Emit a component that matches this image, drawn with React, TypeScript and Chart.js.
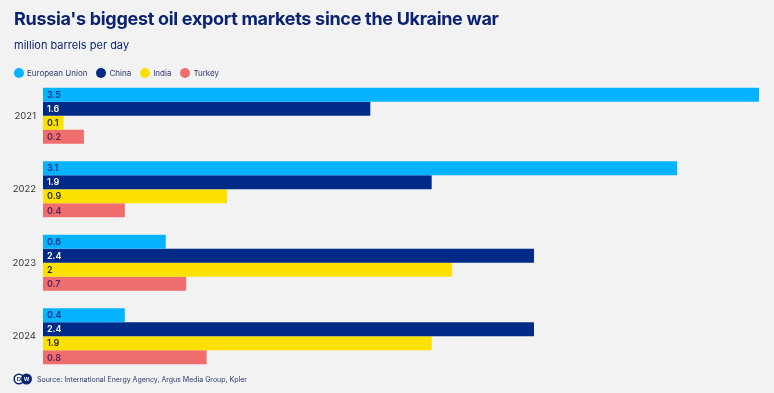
import React, { useEffect, useRef } from "react";
import { Chart, registerables } from "chart.js";

Chart.register(...registerables);

const years = ["2021", "2022", "2023", "2024"];
const euValues = [3.5, 3.1, 0.6, 0.4];
const chinaValues = [1.6, 1.9, 2.4, 2.4];
const indiaValues = [0.1, 0.9, 2, 1.9];
const turkeyValues = [0.2, 0.4, 0.7, 0.8];
const seriesNames = ["European Union", "China", "India", "Turkey"];
const seriesColors = ["#05b3fd", "#002a88", "#fbe000", "#f06d6d"];
const labelColors = ["#12318a", "#ffffff", "#2c2a1c", "#5a2458"];

const FONT = "Inter, 'Noto Sans', 'Open Sans', sans-serif";

const valueLabelPlugin = {
  id: "valueLabels",
  afterDatasetsDraw(chart: any) {
    const ctx = chart.ctx;
    ctx.save();
    ctx.font = `600 9px ${FONT}`;
    ctx.textBaseline = "middle";
    ctx.textAlign = "left";
    chart.data.datasets.forEach((ds: any, i: number) => {
      const meta = chart.getDatasetMeta(i);
      meta.data.forEach((bar: any, j: number) => {
        ctx.fillStyle = labelColors[i];
        ctx.fillText(String(ds.data[j]), bar.base + 4, bar.y + 0.5);
      });
    });
    ctx.restore();
  },
};

export default function App() {
  const ref = useRef<HTMLCanvasElement>(null);
  useEffect(() => {
    const allValues = [euValues, chinaValues, indiaValues, turkeyValues];
    const chart = new Chart(ref.current!, {
      type: "bar",
      data: {
        labels: years,
        datasets: allValues.map((vals, i) => ({
          label: seriesNames[i],
          data: vals,
          backgroundColor: seriesColors[i],
          borderWidth: 0,
          categoryPercentage: 0.764,
          barPercentage: 1,
        })),
      },
      options: {
        indexAxis: "y",
        animation: false,
        responsive: false,
        maintainAspectRatio: false,
        layout: { padding: { left: 0, right: 15, top: 79, bottom: 20 } },
        plugins: {
          legend: { display: false },
          tooltip: { enabled: false },
          title: { display: false },
        },
        scales: {
          x: { display: false, min: 0, max: 3.5 },
          y: {
            grid: { display: false, drawTicks: false },
            border: { display: false },
            ticks: {
              color: "#333333",
              font: { family: FONT, size: 9.5 },
              padding: 7,
            },
            afterFit(scale: any) {
              scale.width = 43;
            },
          },
        },
      },
      plugins: [valueLabelPlugin],
    });
    return () => chart.destroy();
  }, []);

  const navy = "#0a2471";
  return (
    <div
      style={{
        position: "fixed",
        left: 0,
        top: 0,
        width: 774,
        height: 393,
        background: "#f3f2f2",
        fontFamily: FONT,
        overflow: "hidden",
      }}
    >
      <canvas ref={ref} width={774} height={393} style={{ position: "absolute", left: 0, top: 0 }} />
      <div
        style={{
          position: "absolute",
          left: 14,
          top: 8,
          fontSize: 18,
          fontWeight: 700,
          color: navy,
          letterSpacing: -0.3,
          whiteSpace: "nowrap",
        }}
      >
        Russia's biggest oil export markets since the Ukraine war
      </div>
      <div
        style={{
          position: "absolute",
          left: 14,
          top: 38,
          fontSize: 11,
          color: navy,
          whiteSpace: "nowrap",
        }}
      >
        million barrels per day
      </div>
      <div
        style={{
          position: "absolute",
          left: 14,
          top: 68,
          display: "flex",
          alignItems: "center",
          fontSize: 8,
          color: "#2a3a70",
          whiteSpace: "nowrap",
        }}
      >
        {seriesNames.map((n, i) => (
          <div key={n} style={{ display: "flex", alignItems: "center", marginRight: 9 }}>
            <span
              style={{
                display: "inline-block",
                width: 10,
                height: 10,
                borderRadius: 5,
                background: seriesColors[i],
                marginRight: 3,
              }}
            />
            <span>{n}</span>
          </div>
        ))}
      </div>
      <svg
        style={{ position: "absolute", left: 13, top: 373 }}
        width={20}
        height={12}
        viewBox="0 0 20 12"
      >
        <circle cx={6} cy={6} r={4.8} fill="#fff" stroke={navy} strokeWidth={1.6} />
        <text x={6} y={8.3} fontSize={6} fontWeight={700} textAnchor="middle" fill={navy} fontFamily="sans-serif">
          D
        </text>
        <circle cx={13.5} cy={6} r={5.5} fill={navy} />
        <text x={13.5} y={8.2} fontSize={5.5} fontWeight={700} textAnchor="middle" fill="#fff" fontFamily="sans-serif">
          W
        </text>
      </svg>
      <div
        style={{
          position: "absolute",
          left: 37,
          top: 375,
          fontSize: 7,
          color: "#2a3a70",
          whiteSpace: "nowrap",
        }}
      >
        Source: International Energy Agency, Argus Media Group, Kpler
      </div>
    </div>
  );
}
